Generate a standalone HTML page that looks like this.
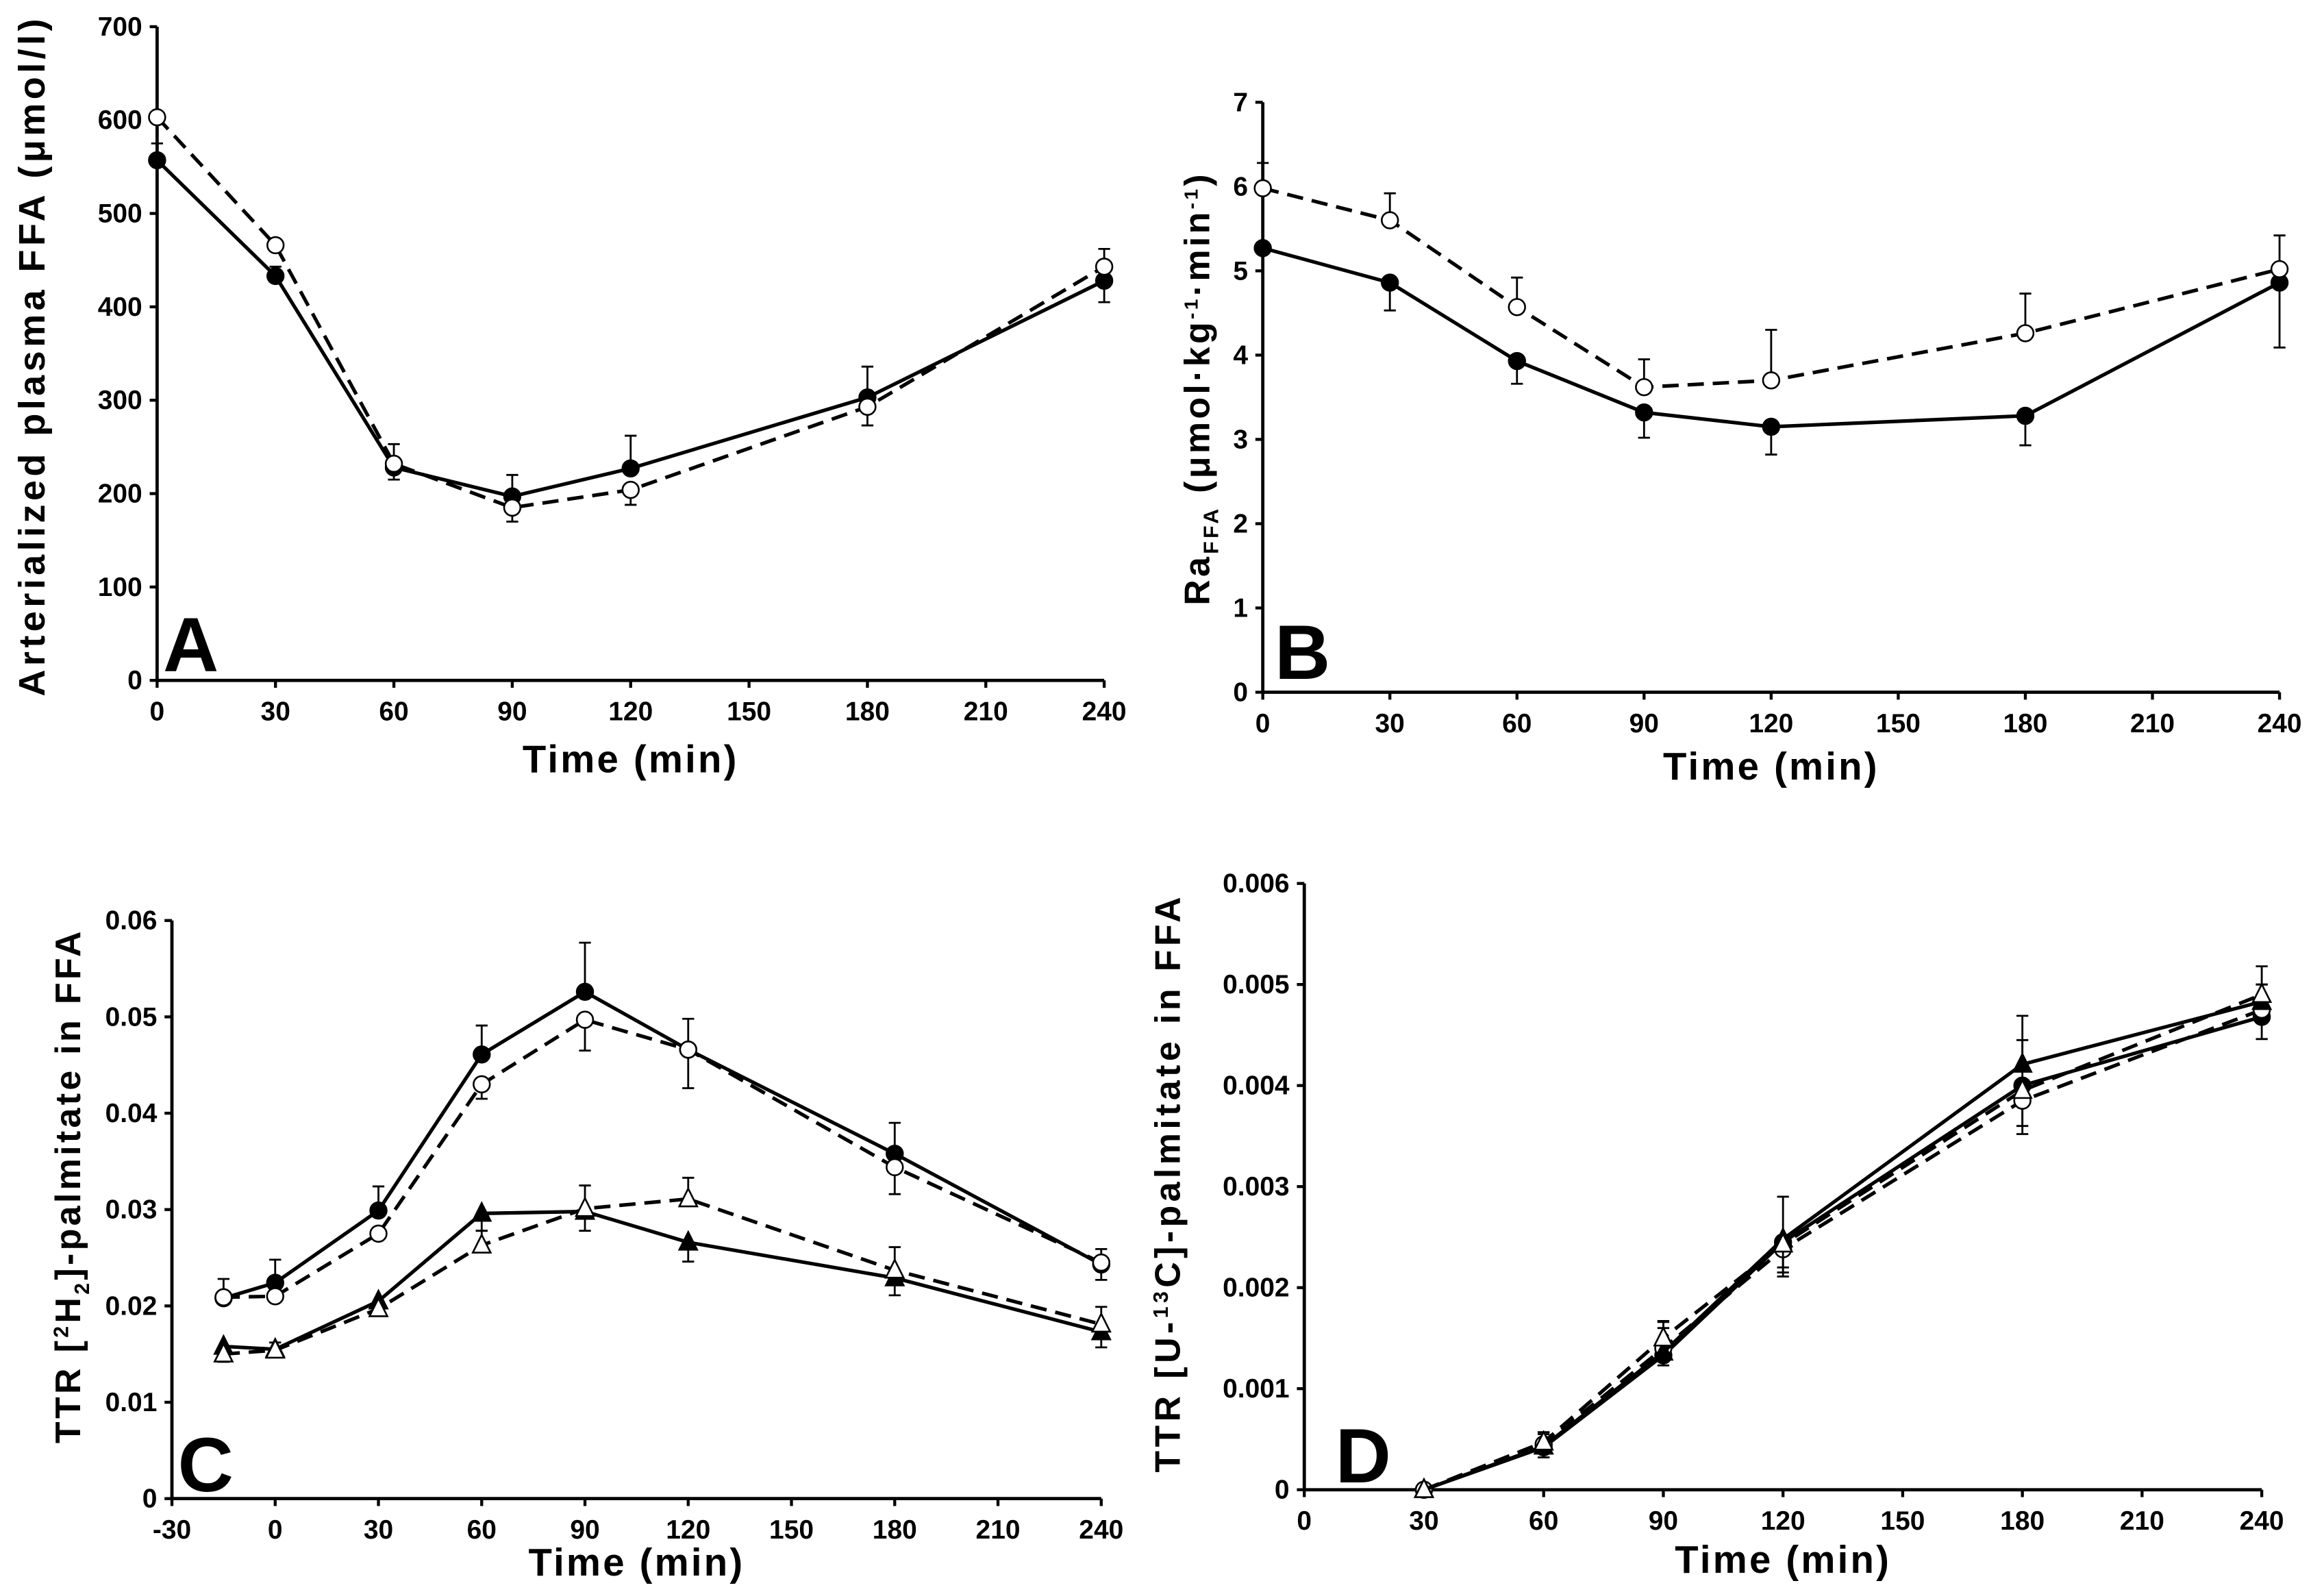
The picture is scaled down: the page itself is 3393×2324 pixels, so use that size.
<!DOCTYPE html>
<html><head><meta charset="utf-8"><style>
html,body{margin:0;padding:0;background:#fff;}
svg{display:block;font-family:"Liberation Sans",sans-serif;font-weight:bold;}
</style></head><body>
<svg id="fig" width="3393" height="2324" viewBox="0 0 1568 1074" preserveAspectRatio="none" xmlns="http://www.w3.org/2000/svg"></svg>
<script>
// ---------- data ----------
const timesAB = [0,30,60,90,120,180,240];
const aFilled = [557,433,228,197,227,303,428];
const aFilledErr = [18,10,-13,23,35,33,-23];
const aOpen = [603,466,232,185,204,293,443];
const aOpenErr = [0,0,21,-15,-16,-20,19];
const aYTicks = [0,100,200,300,400,500,600,700];
const abXTicks = [0,30,60,90,120,150,180,210,240];

const bFilled = [5.27,4.86,3.93,3.32,3.15,3.28,4.86];
const bFilledErr = [0,-0.33,-0.27,-0.3,-0.33,-0.35,-0.77];
const bOpen = [5.98,5.6,4.57,3.62,3.7,4.26,5.02];
const bOpenErr = [0.3,0.32,0.35,0.33,0.6,0.47,0.4];
const bYTicks = [0,1,2,3,4,5,6,7];

const timesC = [-15,0,30,60,90,120,180,240];
const cFilledCircle = [0.0208,0.0224,0.0299,0.0461,0.0526,0.0466,0.0358,0.0243];
const cFilledCircleErr = [0.002,0.0024,0.0025,0.003,0.0051,0.0032,0.0032,0.0016];
const cOpenCircle = [0.0209,0.0210,0.0275,0.0430,0.0497,0.0466,0.0344,0.0245];
const cOpenCircleErr = [-0.0005,-0.0005,0,-0.0015,-0.0032,-0.004,-0.0028,-0.0018];
const cFilledTri = [0.0158,0.0155,0.0205,0.0296,0.0298,0.0266,0.0229,0.0173];
const cFilledTriErr = [-0.0015,0,0,-0.0018,-0.002,-0.002,-0.0018,-0.0016];
const cOpenTri = [0.0150,0.0154,0.0197,0.0263,0.0301,0.0311,0.0237,0.0181];
const cOpenTriErr = [-0.0008,0.0008,0,0.0015,0.0024,0.0022,0.0024,0.0018];
const cYTicks = [0,0.01,0.02,0.03,0.04,0.05,0.06];
const cXTicks = [-30,0,30,60,90,120,150,180,210,240];

const timesD = [30,60,90,120,180,240];
const dFilledCircle = [0,0.00042,0.00133,0.00245,0.00400,0.00468];
const dFilledCircleErr = [0,-0.0001,-0.0001,-0.0003,-0.0004,-0.00022];
const dOpenCircle = [0,0.00045,0.00140,0.00238,0.00385,0.00475];
const dOpenCircleErr = [0,0.0001,0.0002,-0.00027,-0.00033,0.00025];
const dFilledTri = [0,0.00043,0.00136,0.00248,0.00421,0.00483];
const dFilledTriErr = [0,0,0.0003,0.00042,0.00048,0.00017];
const dOpenTri = [0,0.00047,0.00150,0.00243,0.00395,0.00490];
const dOpenTriErr = [0,0.0001,0.00017,-0.00023,0.0005,0.00028];
const dYTicks = [0,0.001,0.002,0.003,0.004,0.005,0.006];
const dXTicks = [0,30,60,90,120,150,180,210,240];

// ---------- drawing ----------
const NS="http://www.w3.org/2000/svg";
const svg=document.getElementById('fig');
function mk(tag,attrs,parent){const e=document.createElementNS(NS,tag);for(const k in attrs)e.setAttribute(k,attrs[k]);(parent||svg).appendChild(e);return e;}

function panel(cfg){
  const g=mk('g',{});
  
  
  const sx=v=>cfg.x0+(v-cfg.xmin)/(cfg.xmax-cfg.xmin)*(cfg.x1-cfg.x0);
  const sy=v=>cfg.y0-(v-cfg.ymin)/(cfg.ymax-cfg.ymin)*(cfg.y0-cfg.y1);
  const yax=mk('line',{x1:cfg.x0,y1:cfg.y1,x2:cfg.x0,y2:cfg.y0,stroke:'#000','stroke-width':2.2},g);
  
  
  const xax=mk('line',{x1:cfg.x0-1,y1:cfg.y0,x2:cfg.x1,y2:cfg.y0,stroke:'#000','stroke-width':2.2},g);
  
  
  cfg.yTicks.forEach(t=>{
    const y=sy(t);
    mk('line',{x1:cfg.x0-5,y1:y,x2:cfg.x0,y2:y,stroke:'#000','stroke-width':2},g);
    const tx=mk('text',{x:cfg.x0-10,y:y+6,'text-anchor':'end','font-size':18},g);
    tx.textContent=cfg.yFmt?cfg.yFmt(t):String(t);
    
    
  });
  cfg.xTicks.forEach(t=>{
    const x=sx(t);
    mk('line',{x1:x,y1:cfg.y0,x2:x,y2:cfg.y0+5,stroke:'#000','stroke-width':2},g);
    const tx=mk('text',{x:x,y:cfg.y0+27,'text-anchor':'middle','font-size':18},g);
    tx.textContent=String(t);
    
    
  });
  const xt=mk('text',{x:(cfg.x0+cfg.x1)/2,y:cfg.xTitleY,'text-anchor':'middle','font-size':26,'letter-spacing':'1.5'},g);
  xt.textContent='Time (min)';
  
  
  const yt=mk('text',{x:0,y:0,'text-anchor':'middle','font-size':cfg.yTitleSize||24,'letter-spacing':cfg.yTitleLs||'2',transform:`translate(${cfg.yTitleX},${cfg.yTitleY}) rotate(-90)`},g);
  yt.innerHTML=cfg.yTitle;
  
  
  const lt=mk('text',{x:cfg.letterX,y:cfg.letterY,'font-size':52,'font-weight':'900'},g);
  lt.textContent=cfg.letter;
  
  
  cfg.series.forEach(s=>{
    const sg=mk('g',{},g);
    
    
    s.vals.forEach((v,i)=>{
      const e=s.err[i]; if(!e) return;
      const x=sx(cfg.times[i]), ya=sy(v), yb=sy(v+e);
      const eb=mk('path',{d:`M${x},${ya}V${yb}M${x-4},${yb}H${x+4}`,stroke:'#000','stroke-width':1.3,fill:'none'},sg);
      
      
    });
    const pts=s.vals.map((v,i)=>sx(cfg.times[i])+','+sy(v)).join(' ');
    const ln=mk('polyline',{points:pts,fill:'none',stroke:'#000','stroke-width':2.4,'stroke-dasharray':s.dash?'11,6':'none'},sg);
    
    
    s.vals.forEach((v,i)=>{
      const x=sx(cfg.times[i]), y=sy(v);
      const fill=s.filled?'#000':'#fff';
      let m;
      if(s.shape==='circle') m=mk('circle',{cx:x,cy:y,r:5.5,fill:fill,stroke:'#000','stroke-width':1.2},sg);
      else m=mk('polygon',{points:`${x},${y-7} ${x-6},${y+5} ${x+6},${y+5}`,fill:fill,stroke:'#000','stroke-width':1.2},sg);
      
      
    });
  });
}

panel({name:'panel-a',x0:106,x1:745,y0:459,y1:18,xmin:0,xmax:240,ymin:0,ymax:700,
  times:timesAB,yTicks:aYTicks,xTicks:abXTicks,xTitleY:521,
  yTitle:'Arterialized plasma FFA (μmol/l)',yTitleX:30,yTitleY:240,yTitleSize:25,yTitleLs:'2.5',
  letter:'A',letterX:110,letterY:453,
  series:[{name:'series-a-filled',vals:aFilled,err:aFilledErr,filled:true,shape:'circle',dash:false},
          {name:'series-a-open',vals:aOpen,err:aOpenErr,filled:false,shape:'circle',dash:true}]});

panel({name:'panel-b',x0:852,x1:1538,y0:467,y1:69,xmin:0,xmax:240,ymin:0,ymax:7,
  times:timesAB,yTicks:bYTicks,xTicks:abXTicks,xTitleY:526,
  yTitle:'Ra<tspan font-size="14" dy="6">FFA</tspan><tspan dy="-6"> (μmol·kg</tspan><tspan font-size="13" dy="-8">-1</tspan><tspan dy="8">·min</tspan><tspan font-size="13" dy="-8">-1</tspan><tspan dy="8">)</tspan>',
  yTitleX:816,yTitleY:262,yTitleSize:24,yTitleLs:'2',
  letter:'B',letterX:860,letterY:458,
  series:[{name:'series-b-filled',vals:bFilled,err:bFilledErr,filled:true,shape:'circle',dash:false},
          {name:'series-b-open',vals:bOpen,err:bOpenErr,filled:false,shape:'circle',dash:true}]});

panel({name:'panel-c',x0:116,x1:743,y0:1011,y1:621,xmin:-30,xmax:240,ymin:0,ymax:0.06,
  times:timesC,yTicks:cYTicks,xTicks:cXTicks,xTitleY:1063,yFmt:t=>t===0?'0':t.toFixed(2),
  yTitle:'TTR [<tspan font-size="14" dy="-8">2</tspan><tspan dy="8">H</tspan><tspan font-size="14" dy="6">2</tspan><tspan dy="-6">]-palmitate in FFA</tspan>',
  yTitleX:54,yTitleY:800,yTitleSize:24,yTitleLs:'2',
  letter:'C',letterX:120,letterY:1006,
  series:[{name:'series-c-filled-circle',vals:cFilledCircle,err:cFilledCircleErr,filled:true,shape:'circle',dash:false},
          {name:'series-c-open-circle',vals:cOpenCircle,err:cOpenCircleErr,filled:false,shape:'circle',dash:true},
          {name:'series-c-filled-triangle',vals:cFilledTri,err:cFilledTriErr,filled:true,shape:'tri',dash:false},
          {name:'series-c-open-triangle',vals:cOpenTri,err:cOpenTriErr,filled:false,shape:'tri',dash:true}]});

panel({name:'panel-d',x0:880,x1:1526,y0:1005,y1:596,xmin:0,xmax:240,ymin:0,ymax:0.006,
  times:timesD,yTicks:dYTicks,xTicks:dXTicks,xTitleY:1061,yFmt:t=>t===0?'0':t.toFixed(3),
  yTitle:'TTR [U-<tspan font-size="14" dy="-8">13</tspan><tspan dy="8">C]-palmitate in FFA</tspan>',
  yTitleX:796,yTitleY:798,yTitleSize:24,yTitleLs:'2.5',
  letter:'D',letterX:901,letterY:1000,
  series:[{name:'series-d-filled-circle',vals:dFilledCircle,err:dFilledCircleErr,filled:true,shape:'circle',dash:false},
          {name:'series-d-open-circle',vals:dOpenCircle,err:dOpenCircleErr,filled:false,shape:'circle',dash:true},
          {name:'series-d-filled-triangle',vals:dFilledTri,err:dFilledTriErr,filled:true,shape:'tri',dash:false},
          {name:'series-d-open-triangle',vals:dOpenTri,err:dOpenTriErr,filled:false,shape:'tri',dash:true}]});
</script>
</body></html>
